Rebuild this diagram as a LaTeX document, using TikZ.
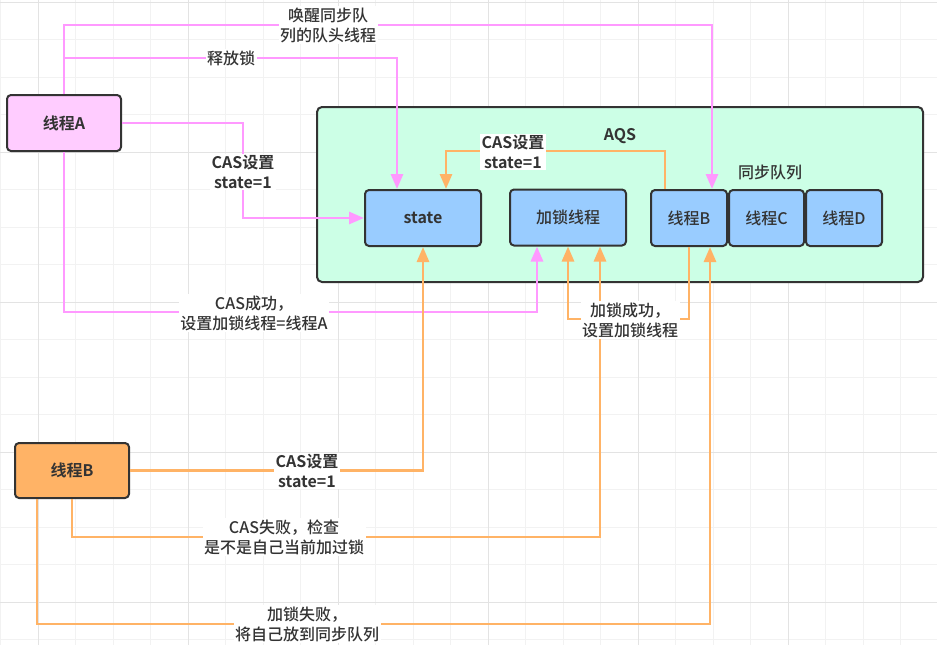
\documentclass[tikz,border=0pt]{standalone}
\usepackage{fontspec}
\setmainfont{Noto Sans CJK SC}[UprightFont={* Medium}, BoldFont={* Bold}]
\usetikzlibrary{arrows.meta}
\definecolor{gridminor}{HTML}{F2F2F2}
\definecolor{gridmajor}{HTML}{E3E3E3}
\definecolor{edgedark}{HTML}{333333}
\definecolor{threadpink}{HTML}{FFCCFF}
\definecolor{aqsgreen}{HTML}{CCFFE6}
\definecolor{slotblue}{HTML}{99CCFF}
\definecolor{threadorange}{HTML}{FFB366}
\definecolor{pinkline}{HTML}{FF99FF}
\definecolor{orangeline}{HTML}{FFB366}
\begin{document}
\begin{tikzpicture}[x=1pt,y=-1pt,
    font=\fontsize{16}{20}\selectfont, text=edgedark,
    box/.style={draw=edgedark, line width=2pt, rounded corners=4pt, inner sep=0pt},
    slot/.style={box, fill=slotblue, minimum height=56pt},
    tag/.style={fill=white, inner sep=1.5pt, align=center},
    pinkflow/.style={draw=pinkline, line width=2.8pt, -{Triangle[length=15pt,width=12pt]}},
    orangeflow/.style={draw=orangeline, line width=2.8pt, -{Triangle[length=15pt,width=12pt]}}]
    \useasboundingbox (0,0) rectangle (937,645);
    % background grid
    \foreach \x in {0.5,38,...,937} \draw[gridminor, line width=1pt] (\x,0) -- (\x,645);
    \foreach \y in {2,39.5,...,645} \draw[gridminor, line width=1pt] (0,\y) -- (937,\y);
    \foreach \x in {38,188,...,937} \draw[gridmajor, line width=1pt] (\x,0) -- (\x,645);
    \foreach \y in {2,152,...,645} \draw[gridmajor, line width=1pt] (0,\y) -- (937,\y);

    \node[box, fill=aqsgreen, minimum width=606pt, minimum height=175pt, rounded corners=5pt] (aqs) at (620,194.5) {};
    \node[font=\fontsize{16}{20}\selectfont\bfseries] (aqslabel) at (620,136) {AQS};
    \node (queuelabel) at (770,172) {同步队列};
    \node[slot, minimum width=116pt, font=\fontsize{16}{20}\selectfont\bfseries] (state) at (423,218) {state};
    \node[slot, minimum width=116pt] (owner) at (568,217.5) {加锁线程};
    \node[slot, minimum width=76pt] (qB) at (689,218) {线程B};
    \node[slot, minimum width=75pt] (qC) at (766.5,218) {线程C};
    \node[slot, minimum width=76pt] (qD) at (844,218) {线程D};
    \node[box, fill=threadpink, minimum width=114pt, minimum height=56pt, font=\fontsize{16}{20}\selectfont\bfseries] (A) at (64,123) {线程A};
    \node[box, fill=threadorange, minimum width=114pt, minimum height=55pt, font=\fontsize{16}{20}\selectfont\bfseries] (B) at (72,470.5) {线程B};

    % thread A
    \draw[pinkflow] (A.north) -- (A.north |- 0,25) -| ([xshift=23pt]qB.north);
    \draw[pinkflow] (A.north) -- (A.north |- 0,58) -| ([xshift=-26pt]state.north);
    \draw[pinkflow] (A.east) -| (243,170) |- (state.west);
    \draw[pinkflow] (A.south) -- (A.south |- 0,312) -| ([xshift=-31pt]owner.south);
    % thread B
    \draw[orangeflow] (B.east) -| (state.south);
    \draw[orangeflow] (B.south) -- (B.south |- 0,537) -| ([xshift=32pt]owner.south);
    \draw[orangeflow] ([xshift=-35pt]B.south) -- ([xshift=-35pt]B.south |- 0,624) -| ([xshift=21pt]qB.south);
    \draw[orangeflow] (qB.south) -- (qB.south |- 0,319) -| (owner.south);
    \draw[orangeflow] ([xshift=-24pt]qB.north) -- ([xshift=-24pt]qB.north |- 0,151) -| ([xshift=23pt]state.north);

    \node[tag] (wake) at (328,25) {唤醒同步队\\列的队头线程};
    \node[tag] (release) at (231,58) {释放锁};
    \node[tag, font=\fontsize{16}{20}\selectfont\bfseries] (casA) at (243,172) {CAS设置\\state=1};
    \node[tag] (okA) at (254,313) {CAS成功，\\设置加锁线程=线程A};
    \node[tag, font=\fontsize{16}{20}\selectfont\bfseries] (casB) at (307,471) {CAS设置\\state=1};
    \node[tag] (failB) at (284,537) {CAS失败，检查\\是不是自己当前加过锁};
    \node[tag] (enqueue) at (307,624) {加锁失败，\\将自己放到同步队列};
    \node[tag] (okB) at (630,320) {加锁成功，\\设置加锁线程};
    \node[tag, font=\fontsize{16}{20}\selectfont\bfseries] (casQ) at (513,152) {CAS设置\\state=1};
\end{tikzpicture}
\end{document}
